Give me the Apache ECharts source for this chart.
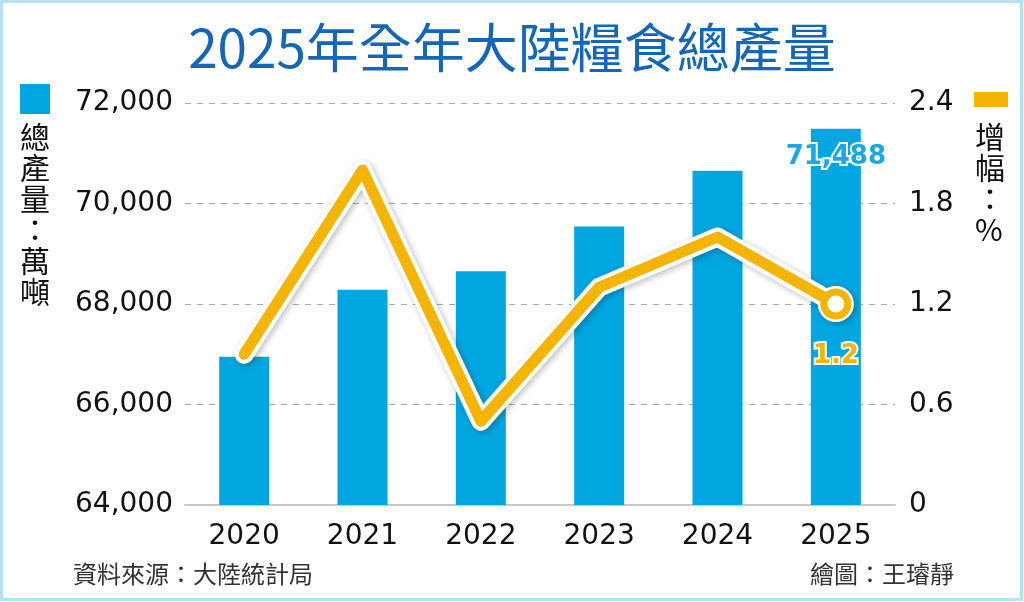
<!DOCTYPE html>
<html lang="zh-Hant">
<head>
    <meta charset="utf-8" />
    <title>2025年全年大陸糧食總產量</title>
    <script src="https://cdn.jsdelivr.net/npm/echarts@6/dist/echarts.min.js"></script>
    <style>
        html, body { margin: 0; padding: 0; background: #fff; }
        #box { width: 1024px; height: 602px; }
    </style>
</head>
<body>
<div id="box"></div>
<script>
    // 資料
    var years = ['2020', '2021', '2022', '2023', '2024', '2025'];
    var output = [66949, 68285, 68653, 69541, 70650, 71488];   // 總產量：萬噸
    var growth = [0.9, 2.0, 0.5, 1.3, 1.6, 1.2];               // 增幅：%
    var leftTicks = { min: 64000, max: 72000, step: 2000 };
    var rightTicks = { min: 0, max: 2.4, step: 0.6 };

    var FONT = '"Noto Sans CJK TC", "Noto Sans", sans-serif';
    var NUM = '"DejaVu Sans", "Noto Sans", sans-serif';
    var BLUE = '#00a6e0';
    var YELLOW = '#f5b400';
    var last = years.length - 1;

    function comma(v) {
        return String(v).replace(/\B(?=(\d{3})+(?!\d))/g, ',');
    }
    function vertical(s) {
        return s.split('').join('\n');
    }

    var myChart = echarts.init(document.getElementById('box'));
    var option = {
        backgroundColor: '#fff',
        animation: false,
        textStyle: { fontFamily: FONT },
        title: {
            text: '2025年全年大陸糧食總產量',
            left: 'center',
            top: 16,
            textStyle: { color: '#1466b8', fontSize: 53, fontWeight: 'normal', fontFamily: FONT }
        },
        grid: { left: 185, right: 129, top: 103, bottom: 97 },
        xAxis: {
            type: 'category',
            data: years,
            axisLine: { lineStyle: { color: '#c8c8c8', width: 2 } },
            axisTick: { alignWithLabel: true, length: 10, lineStyle: { color: '#c8c8c8', width: 2 } },
            axisLabel: { color: '#111', fontSize: 28, margin: 18, fontFamily: NUM }
        },
        yAxis: [
            {
                type: 'value',
                min: leftTicks.min, max: leftTicks.max, interval: leftTicks.step,
                axisLine: { show: false },
                axisTick: { show: false },
                axisLabel: { color: '#111', fontSize: 28, margin: 12, formatter: comma, fontFamily: NUM },
                splitLine: { lineStyle: { color: '#aaa', type: [6, 6], width: 1 } }
            },
            {
                type: 'value',
                min: rightTicks.min, max: rightTicks.max, interval: rightTicks.step,
                axisLine: { show: false },
                axisTick: { show: false },
                axisLabel: { color: '#111', fontSize: 28, margin: 14, fontFamily: NUM,
                    formatter: function (v) { return v === 0 ? '0' : v.toFixed(1); } },
                splitLine: { show: false }
            }
        ],
        series: [
            {
                name: '總產量',
                type: 'bar',
                data: output,
                barWidth: 50,
                itemStyle: { color: BLUE },
                label: {
                    show: true,
                    position: 'insideTop',
                    distance: 16,
                    formatter: function (p) { return p.dataIndex === last ? comma(p.value) : ''; },
                    color: '#1aa8e2',
                    fontSize: 26,
                    fontWeight: 'bold',
                    textBorderColor: '#fff',
                    textBorderWidth: 4,
                    fontFamily: NUM
                },
                z: 1
            },
            {
                // 白色襯底
                name: '襯底',
                type: 'line',
                yAxisIndex: 1,
                data: growth,
                symbol: function (v, p) { return p.dataIndex === last ? 'circle' : 'none'; },
                symbolSize: 36,
                itemStyle: { color: '#fff', shadowColor: 'rgba(0,0,0,0.25)', shadowBlur: 6, shadowOffsetX: 2, shadowOffsetY: 2 },
                lineStyle: { color: '#fff', width: 19, cap: 'round', join: 'round',
                    shadowColor: 'rgba(0,0,0,0.25)', shadowBlur: 6, shadowOffsetX: 2, shadowOffsetY: 2 },
                silent: true,
                z: 2
            },
            {
                name: '增幅',
                type: 'line',
                yAxisIndex: 1,
                data: growth,
                symbol: function (v, p) { return p.dataIndex === last ? 'circle' : 'none'; },
                symbolSize: 24,
                itemStyle: { color: '#fff', borderColor: YELLOW, borderWidth: 7 },
                lineStyle: { color: YELLOW, width: 11, cap: 'round', join: 'round' },
                label: {
                    show: true,
                    position: 'bottom',
                    distance: 24,
                    formatter: function (p) { return p.dataIndex === last ? p.value.toFixed(1) : ''; },
                    color: YELLOW,
                    fontSize: 26,
                    fontWeight: 'bold',
                    textBorderColor: '#fff',
                    textBorderWidth: 4,
                    fontFamily: NUM
                },
                z: 3
            }
        ],
        graphic: [
            {
                type: 'rect',
                shape: { x: 1.5, y: 1.5, width: 1020, height: 598 },
                style: { fill: 'none', stroke: '#b5e1f5', lineWidth: 3 },
                silent: true
            },
            {
                type: 'rect',
                shape: { x: 20, y: 84, width: 30, height: 30 },
                style: { fill: BLUE }
            },
            {
                type: 'text',
                left: 20, top: 121,
                style: { text: vertical('總產量：萬噸'), font: '30px ' + FONT, fill: '#111', lineHeight: 31 }
            },
            {
                type: 'rect',
                shape: { x: 974, y: 92, width: 34, height: 15 },
                style: { fill: YELLOW }
            },
            {
                type: 'text',
                left: 975, top: 121,
                style: { text: vertical('增幅：%'), font: '30px ' + FONT, fill: '#111', lineHeight: 31, align: 'center' }
            },
            {
                type: 'text',
                left: 73, top: 562,
                style: { text: '資料來源：大陸統計局', font: '24px ' + FONT, fill: '#333' }
            },
            {
                type: 'text',
                right: 70, top: 562,
                style: { text: '繪圖：王璿靜', font: '24px ' + FONT, fill: '#333' }
            }
        ]
    };
    myChart.setOption(option);
</script>
</body>
</html>
